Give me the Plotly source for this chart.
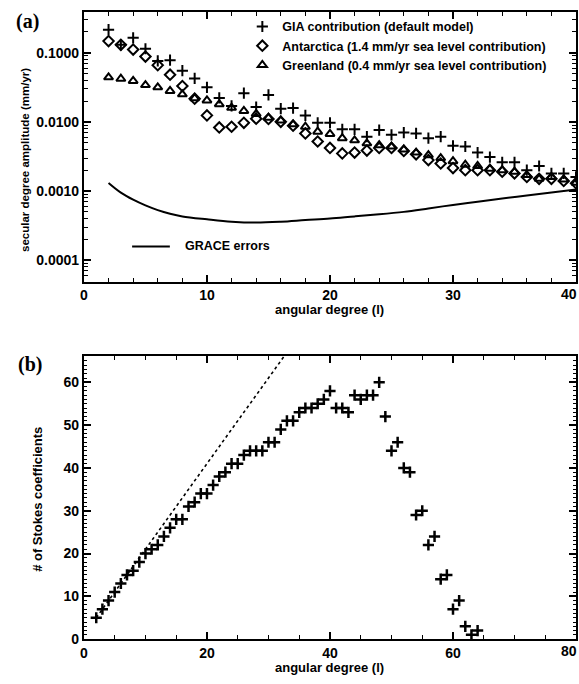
import plotly.graph_objects as go

# ---------------- data ----------------
deg_a = list(range(2, 41))
gia = [0.215, 0.13, 0.164, 0.114, 0.076, 0.078, 0.055, 0.0425, 0.0316, 0.0222,
       0.017, 0.026, 0.0164, 0.0245, 0.0155, 0.0158, 0.0124, 0.0097, 0.0097, 0.0078,
       0.0078, 0.0061, 0.0076, 0.0065, 0.0070, 0.0068, 0.0058, 0.0061, 0.0045, 0.0044,
       0.0036, 0.0031, 0.0026, 0.0026, 0.0020, 0.0023, 0.0018, 0.0018, 0.0016]
antarctica = [0.147, 0.13, 0.111, 0.088, 0.066, 0.048, 0.033, 0.0216, 0.0124, 0.0083,
              0.0085, 0.0097, 0.0111, 0.011, 0.0100, 0.0088, 0.0068, 0.0052, 0.0042, 0.0035,
              0.0036, 0.00385, 0.0042, 0.0042, 0.0038, 0.0034, 0.0028, 0.0025, 0.00215, 0.0020,
              0.0020, 0.0020, 0.0019, 0.0018, 0.0016, 0.0015, 0.0015, 0.0014, 0.0013]
greenland = [0.044, 0.042, 0.039, 0.034, 0.0316, 0.028, 0.025, 0.022, 0.0204, 0.018,
             0.016, 0.0144, 0.013, 0.0115, 0.0105, 0.0092, 0.0085, 0.0072, 0.0067, 0.0058,
             0.0054, 0.0049, 0.0046, 0.0044, 0.0040, 0.0036, 0.0033, 0.0030, 0.0027, 0.0024,
             0.0023, 0.0021, 0.0020, 0.0019, 0.0017, 0.0015, 0.0016, 0.00147, 0.00132]
grace_deg = [2, 3, 4, 5, 6, 7, 8, 10, 12, 14, 16, 18, 20, 22, 24, 26, 28, 30, 32, 34, 36, 38, 40]
grace_err = [0.00131, 0.00095, 0.00075, 0.00062, 0.00053, 0.00047, 0.00043, 0.00039, 0.00036,
             0.00035, 0.00036, 0.00038, 0.00040, 0.00043, 0.00046, 0.00050, 0.00056, 0.00063,
             0.00070, 0.00078, 0.00086, 0.00095, 0.00105]

deg_b = list(range(2, 65))
stokes = [5, 7, 9, 11, 13, 15, 16, 18, 20, 21, 22, 24, 26, 28, 28, 31, 32, 34, 34, 36,
          38, 39, 41, 41, 43, 44, 44, 44, 46, 46, 49, 51, 51, 53, 54, 54, 55, 56, 58, 54,
          54, 53, 57, 56, 57, 57, 60, 52, 44, 46, 40, 39, 29, 30, 22, 24, 14, 15, 7, 9,
          3, 1, 2]
dot_deg = [2, 33]
dot_max = [5, 67]

a_yticks = [0.0001, 0.001, 0.01, 0.1]
a_yticktext = ["0.0001", "0.0010", "0.0100", "0.1000"]
a_xticks = [0, 10, 20, 30, 40]
b_xticks = [0, 20, 40, 60, 80]
b_yticks = [0, 10, 20, 30, 40, 50, 60]

# ---------------- layout helpers ----------------
W, H = 579, 684
def px(x): return x / W
def py(y): return 1 - y / H

FONT = "Liberation Sans"
SERIF = "Liberation Serif"
BLK = "black"
tickfont = dict(family=FONT, size=14, color=BLK, weight="bold")

fig = go.Figure()
fig.add_trace(go.Scatter(x=deg_a, y=gia, mode="markers", name="GIA contribution (default model)",
                         marker=dict(symbol="cross-thin", size=8, color=BLK, line=dict(width=2, color=BLK)),
                         xaxis="x", yaxis="y", legend="legend"))
fig.add_trace(go.Scatter(x=deg_a, y=antarctica, mode="markers",
                         name="Antarctica (1.4 mm/yr sea level contribution)",
                         marker=dict(symbol="diamond-open", size=8, color=BLK, line=dict(width=2, color=BLK)),
                         xaxis="x", yaxis="y", legend="legend"))
fig.add_trace(go.Scatter(x=deg_a, y=greenland, mode="markers",
                         name="Greenland (0.4 mm/yr sea level contribution)",
                         marker=dict(symbol="triangle-up-open", size=8, color=BLK, line=dict(width=2, color=BLK)),
                         xaxis="x", yaxis="y", legend="legend"))
fig.add_trace(go.Scatter(x=grace_deg, y=grace_err, mode="lines", name="GRACE errors", showlegend=False,
                         line=dict(color=BLK, width=2, shape="spline"),
                         xaxis="x", yaxis="y"))

fig.add_trace(go.Scatter(x=dot_deg, y=dot_max, mode="lines", showlegend=False,
                         line=dict(color=BLK, width=1.6, dash="dot"), xaxis="x2", yaxis="y2"))
fig.add_trace(go.Scatter(x=deg_b, y=stokes, mode="markers", showlegend=False,
                         marker=dict(symbol="cross-thin", size=8, color=BLK, line=dict(width=2.5, color=BLK)),
                         xaxis="x2", yaxis="y2"))

axis_common = dict(showline=True, linewidth=2, linecolor=BLK, mirror="allticks", ticks="inside",
                   tickcolor=BLK, tickwidth=1.5, showgrid=False, zeroline=False, tickfont=tickfont)

def ann(text, x, y, size, family=FONT, angle=0, xanchor="center"):
    return dict(text=text, x=px(x), y=py(y), xref="paper", yref="paper", showarrow=False,
                xanchor=xanchor, yanchor="middle", textangle=angle,
                font=dict(family=family, size=size, color=BLK, weight="bold"))

fig.update_layout(
    width=W, height=H, margin=dict(l=0, r=0, t=0, b=0),
    paper_bgcolor="white", plot_bgcolor="white",
    xaxis=dict(domain=[px(80.5), px(576)], range=[0, 40], anchor="y", tickmode="array",
               tickvals=a_xticks, ticklen=7,
               minor=dict(ticks="inside", dtick=2, ticklen=4, tickcolor=BLK, tickwidth=1.2),
               **axis_common),
    yaxis=dict(domain=[py(285), py(12)], type="log", range=[-4.31, -0.41], anchor="x",
               tickmode="array", tickvals=a_yticks, ticktext=a_yticktext, ticklen=7,
               minor=dict(ticks="inside", dtick="D1", ticklen=4, tickcolor=BLK, tickwidth=1.2),
               **axis_common),
    xaxis2=dict(domain=[px(80.5), px(576)], range=[0, 80], anchor="y2", tickmode="array",
                tickvals=b_xticks, ticklen=7,
                minor=dict(ticks="inside", dtick=5, ticklen=4, tickcolor=BLK, tickwidth=1.2),
                **axis_common),
    yaxis2=dict(domain=[py(646.7), py(360)], range=[0, 66.2], anchor="x2", tickmode="array",
                tickvals=b_yticks, ticklen=7,
                minor=dict(ticks="inside", dtick=1, ticklen=3, tickcolor=BLK, tickwidth=1.2),
                **axis_common),
    legend=dict(x=px(240), y=py(12), xanchor="left", yanchor="top", bgcolor="rgba(0,0,0,0)",
                font=dict(family=FONT, size=12.5, color=BLK, weight="bold"),
                itemwidth=30, tracegroupgap=0),
    shapes=[dict(type="line", xref="paper", yref="paper", x0=px(129), x1=px(167),
                 y0=py(249.3), y1=py(249.3), line=dict(color=BLK, width=2))],
    annotations=[
        ann("(a)", 24, 22, 20, SERIF),
        ann("(b)", 26, 369, 20, SERIF),
        ann("secular degree amplitude (mm/yr)", 21, 162, 11.5, angle=-90),
        ann("angular degree (l)", 328, 313, 13),
        ann("# of Stokes coefficients", 33, 505, 13, angle=-90),
        ann("angular degree (l)", 328, 675.5, 13),
        # edge tick labels (cut by the page edge in the original)
        ann(str(a_xticks[-1]), 579, 297, 14, xanchor="right"),
        ann(str(b_xticks[-1]), 579, 659, 14, xanchor="right"),
        dict(text="GRACE errors", x=px(180), y=py(248.5), xref="paper", yref="paper", showarrow=False,
             xanchor="left", yanchor="middle",
             font=dict(family=FONT, size=12.5, color=BLK, weight="bold")),
    ],
)

fig.write_html("out.html")
